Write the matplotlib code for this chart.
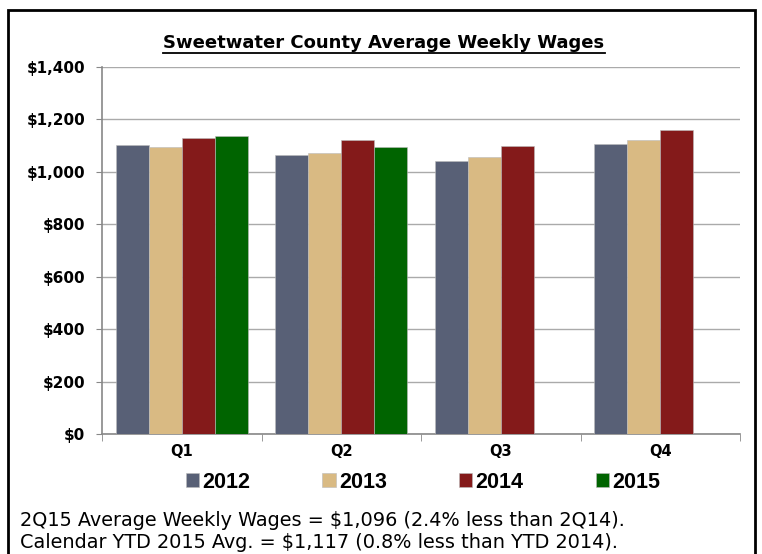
import numpy as np
import matplotlib.pyplot as plt
from matplotlib.patches import Rectangle

quarters = ['Q1', 'Q2', 'Q3', 'Q4']
years = ['2012', '2013', '2014', '2015']
wages_2012 = [1102, 1063, 1043, 1106]
wages_2013 = [1094, 1072, 1057, 1122]
wages_2014 = [1131, 1123, 1100, 1159]
wages_2015 = [1138, 1096, np.nan, np.nan]
colors = ['#586076', '#D9BA83', '#841A1A', '#006400']

fig = plt.figure(figsize=(7.62, 5.54), dpi=100)
ax = fig.add_axes([102 / 762, 1 - 434 / 554, 638 / 762, 367 / 554])

x = np.arange(len(quarters))
w = 0.207
series = [wages_2012, wages_2013, wages_2014, wages_2015]
for i, (vals, c, yr) in enumerate(zip(series, colors, years)):
    ax.bar(x + (i - 1.5) * w, vals, w, color=c, edgecolor='#bbbbbb',
           linewidth=0.4, label=yr, zorder=3)

ax.set_xlim(-0.5, 3.5)
ax.set_ylim(0, 1400)
ax.set_yticks(range(0, 1401, 200))
ax.set_yticklabels(['$0', '$200', '$400', '$600', '$800', '$1,000', '$1,200', '$1,400'],
                   fontweight='bold', fontsize=11)
ax.set_xticks(x)
ax.set_xticklabels(quarters, fontweight='bold', fontsize=10.5)
ax.set_xticks(np.arange(-0.5, 4, 1), minor=True)
ax.tick_params(axis='x', which='major', length=0, pad=7)
ax.tick_params(axis='x', which='minor', length=5, color='#888888')
ax.tick_params(axis='y', length=4, color='#888888', pad=8)
ax.grid(axis='y', color='#aaaaaa', linewidth=1, zorder=0)
for s in ['top', 'right']:
    ax.spines[s].set_visible(False)
ax.spines['left'].set_color('#888888')
ax.spines['bottom'].set_color('#888888')
ax.spines['left'].set_linewidth(1.2)
ax.spines['bottom'].set_linewidth(1.2)

t = fig.text(384 / 762, 1 - 43 / 554, 'Sweetwater County Average Weekly Wages',
             ha='center', va='center', fontsize=13, fontweight='bold')
# underline for title
fig.canvas.draw()
bb = t.get_window_extent()
fig.add_artist(plt.Line2D([bb.x0 / 762, bb.x1 / 762], [(bb.y0 - 1) / 554] * 2,
                          color='black', linewidth=1.3))

handles, labels = ax.get_legend_handles_labels()
fig.legend(handles, labels, loc='center', bbox_to_anchor=(423 / 762, 1 - 482 / 554),
           ncol=4, frameon=False,
           prop={'family': 'Liberation Sans', 'weight': 'bold', 'size': 15.5},
           handlelength=0.62, handleheight=0.62, handletextpad=0.15, columnspacing=3.35)

fig.text(20 / 762, 1 - 520 / 554,
         '2Q15 Average Weekly Wages = $1,096 (2.4% less than 2Q14).',
         ha='left', va='center', fontsize=13.9)
fig.text(20 / 762, 1 - 543 / 554,
         'Calendar YTD 2015 Avg. = $1,117 (0.8% less than YTD 2014).',
         ha='left', va='center', fontsize=13.9)

fig.add_artist(Rectangle((8 / 762, -0.05), 747 / 762, 1.05 - 10 / 554,
                         transform=fig.transFigure, fill=False,
                         edgecolor='black', linewidth=2))

fig.savefig('out.png', dpi=100)
